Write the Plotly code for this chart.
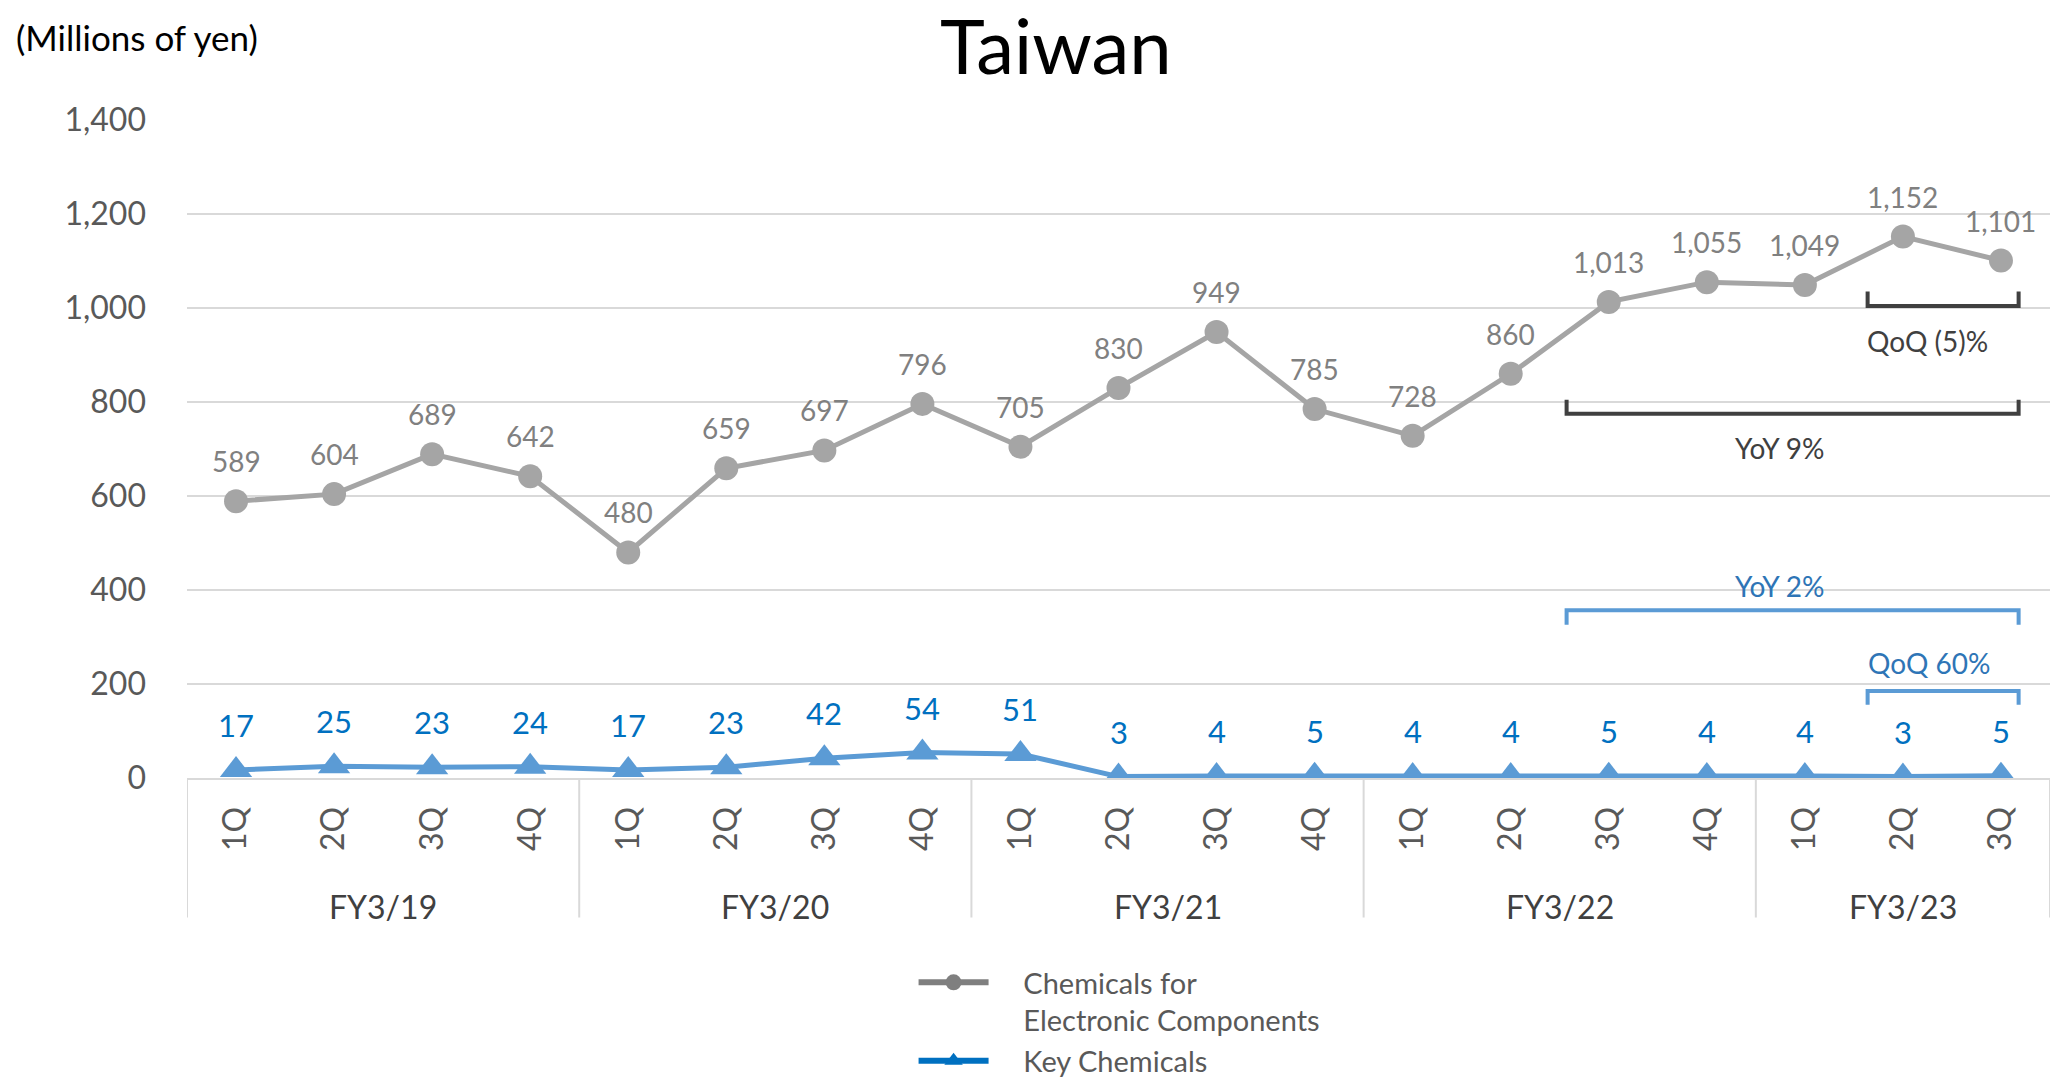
import plotly.graph_objects as go

quarters = ["1Q", "2Q", "3Q", "4Q", "1Q", "2Q", "3Q", "4Q", "1Q", "2Q", "3Q", "4Q",
            "1Q", "2Q", "3Q", "4Q", "1Q", "2Q", "3Q"]
fiscal_years = ["FY3/19", "FY3/20", "FY3/21", "FY3/22", "FY3/23"]
fy_sizes = [4, 4, 4, 4, 3]
electronic = [589, 604, 689, 642, 480, 659, 697, 796, 705, 830, 949, 785, 728, 860,
              1013, 1055, 1049, 1152, 1101]
key_chem = [17, 25, 23, 24, 17, 23, 42, 54, 51, 3, 4, 5, 4, 4, 5, 4, 4, 3, 5]
y_ticks = [0, 200, 400, 600, 800, 1000, 1200, 1400]

FONT = "Lato, 'Open Sans', sans-serif"
xs = list(range(len(quarters)))
PAD = "\u00a0" * 4

fig = go.Figure()
fig.add_trace(go.Scatter(x=xs, y=electronic, mode="lines+markers", showlegend=False,
                         line=dict(color="#A5A5A5", width=5),
                         marker=dict(symbol="circle", size=24, color="#A5A5A5")))
fig.add_trace(go.Scatter(x=xs, y=key_chem, mode="lines+markers", showlegend=False,
                         line=dict(color="#5B9BD5", width=5),
                         marker=dict(symbol="triangle-up", size=28, color="#5B9BD5")))
# legend entries
fig.add_trace(go.Scatter(x=[None], y=[None], mode="lines+markers",
                         name=PAD + "Chemicals for<br>" + PAD + "Electronic Components",
                         line=dict(color="#7F7F7F", width=6),
                         marker=dict(symbol="circle", size=22, color="#7F7F7F")))
fig.add_trace(go.Scatter(x=[None], y=[None], mode="lines+markers",
                         name=PAD + "Key Chemicals",
                         line=dict(color="#0070C0", width=6),
                         marker=dict(symbol="triangle-up", size=24, color="#0070C0")))

ann = []
for x, v in zip(xs, electronic):
    ann.append(dict(x=x, y=v, xref="x", yref="y", text=f"{v:,}", showarrow=False,
                    yshift=40, font=dict(family=FONT, size=28, color="#808080")))
for x, v in zip(xs, key_chem):
    ann.append(dict(x=x, y=v, xref="x", yref="y", text=f"{v:,}", showarrow=False,
                    yshift=45, font=dict(family=FONT, size=31, color="#0070C0")))

# fiscal year group labels and separators
shapes = []
start = 0
bounds = [-0.5]
for fy, n in zip(fiscal_years, fy_sizes):
    center = start + (n - 1) / 2
    ann.append(dict(x=center, y=-0.195, xref="x", yref="paper", text=fy, showarrow=False,
                    yanchor="middle",
                    font=dict(family=FONT, size=32, color="#404040")))
    start += n
    bounds.append(start - 0.5)
for b in bounds:
    shapes.append(dict(type="line", xref="x", yref="paper", x0=b, x1=b, y0=0, y1=-0.212,
                       line=dict(color="#D9D9D9", width=2)))

# brackets
GRAY_B = "#404040"
BLUE_B = "#5B9BD5"
shapes.append(dict(type="path", xref="x", yref="y",
                   path="M 16.64,1035 L 16.64,1004 L 18.18,1004 L 18.18,1035",
                   line=dict(color=GRAY_B, width=4)))
shapes.append(dict(type="path", xref="x", yref="y",
                   path="M 13.57,805 L 13.57,775 L 18.18,775 L 18.18,805",
                   line=dict(color=GRAY_B, width=4)))
shapes.append(dict(type="path", xref="x", yref="y",
                   path="M 13.57,326 L 13.57,357 L 18.18,357 L 18.18,326",
                   line=dict(color=BLUE_B, width=4)))
shapes.append(dict(type="path", xref="x", yref="y",
                   path="M 16.64,156 L 16.64,185 L 18.18,185 L 18.18,156",
                   line=dict(color=BLUE_B, width=4)))

plot_w = 2054 - 187 - 4
plot_h = 1082 - 120 - 304
ann += [
    dict(x=17.25, y=930, xref="x", yref="y", text="QoQ (5)%", showarrow=False,
         font=dict(family=FONT, size=28, color="#404040")),
    dict(x=15.74, y=702, xref="x", yref="y", text="YoY 9%", showarrow=False,
         font=dict(family=FONT, size=28, color="#404040")),
    dict(x=15.74, y=409, xref="x", yref="y", text="YoY 2%", showarrow=False,
         font=dict(family=FONT, size=28, color="#2E75B6")),
    dict(x=17.27, y=245, xref="x", yref="y", text="QoQ 60%", showarrow=False,
         font=dict(family=FONT, size=28, color="#2E75B6")),
    dict(x=(14 - 187) / plot_w, y=1 + (120 - 37) / plot_h, xref="paper", yref="paper",
         text="(Millions of yen)", showarrow=False, xanchor="left", yanchor="middle",
         font=dict(family=FONT, size=35, color="#000000")),
]

fig.update_layout(
    width=2054, height=1082,
    margin=dict(l=187, r=4, t=120, b=304, autoexpand=False),
    paper_bgcolor="white", plot_bgcolor="white",
    title=dict(text="Taiwan", x=0.514, xref="container", y=1 - 47 / 1082, yref="container",
               xanchor="center", yanchor="middle", pad=dict(t=0, b=0),
               font=dict(family=FONT, size=76, color="#000000")),
    xaxis=dict(range=[-0.5, len(quarters) - 0.5], tickvals=xs, ticktext=quarters,
               tickangle=-90, showgrid=False, zeroline=False, showline=True,
               linecolor="#D9D9D9", linewidth=2, ticks="", ticklabelstandoff=14,
               tickfont=dict(family=FONT, size=32, color="#595959")),
    yaxis=dict(range=[0, 1400], tickvals=y_ticks, tickformat=",", showgrid=True,
               gridcolor="#D9D9D9", gridwidth=2, zeroline=False, showline=False,
               ticks="", ticklabelstandoff=40,
               tickfont=dict(family=FONT, size=32, color="#595959")),
    legend=dict(x=0.39, xanchor="left", y=1 - 957 / 1082, yref="container",
                yanchor="top", valign="top",
                itemwidth=70, font=dict(family=FONT, size=29, color="#595959"),
                bgcolor="rgba(0,0,0,0)", tracegroupgap=0),
    annotations=ann, shapes=shapes,
)

fig.write_html("out.html")
